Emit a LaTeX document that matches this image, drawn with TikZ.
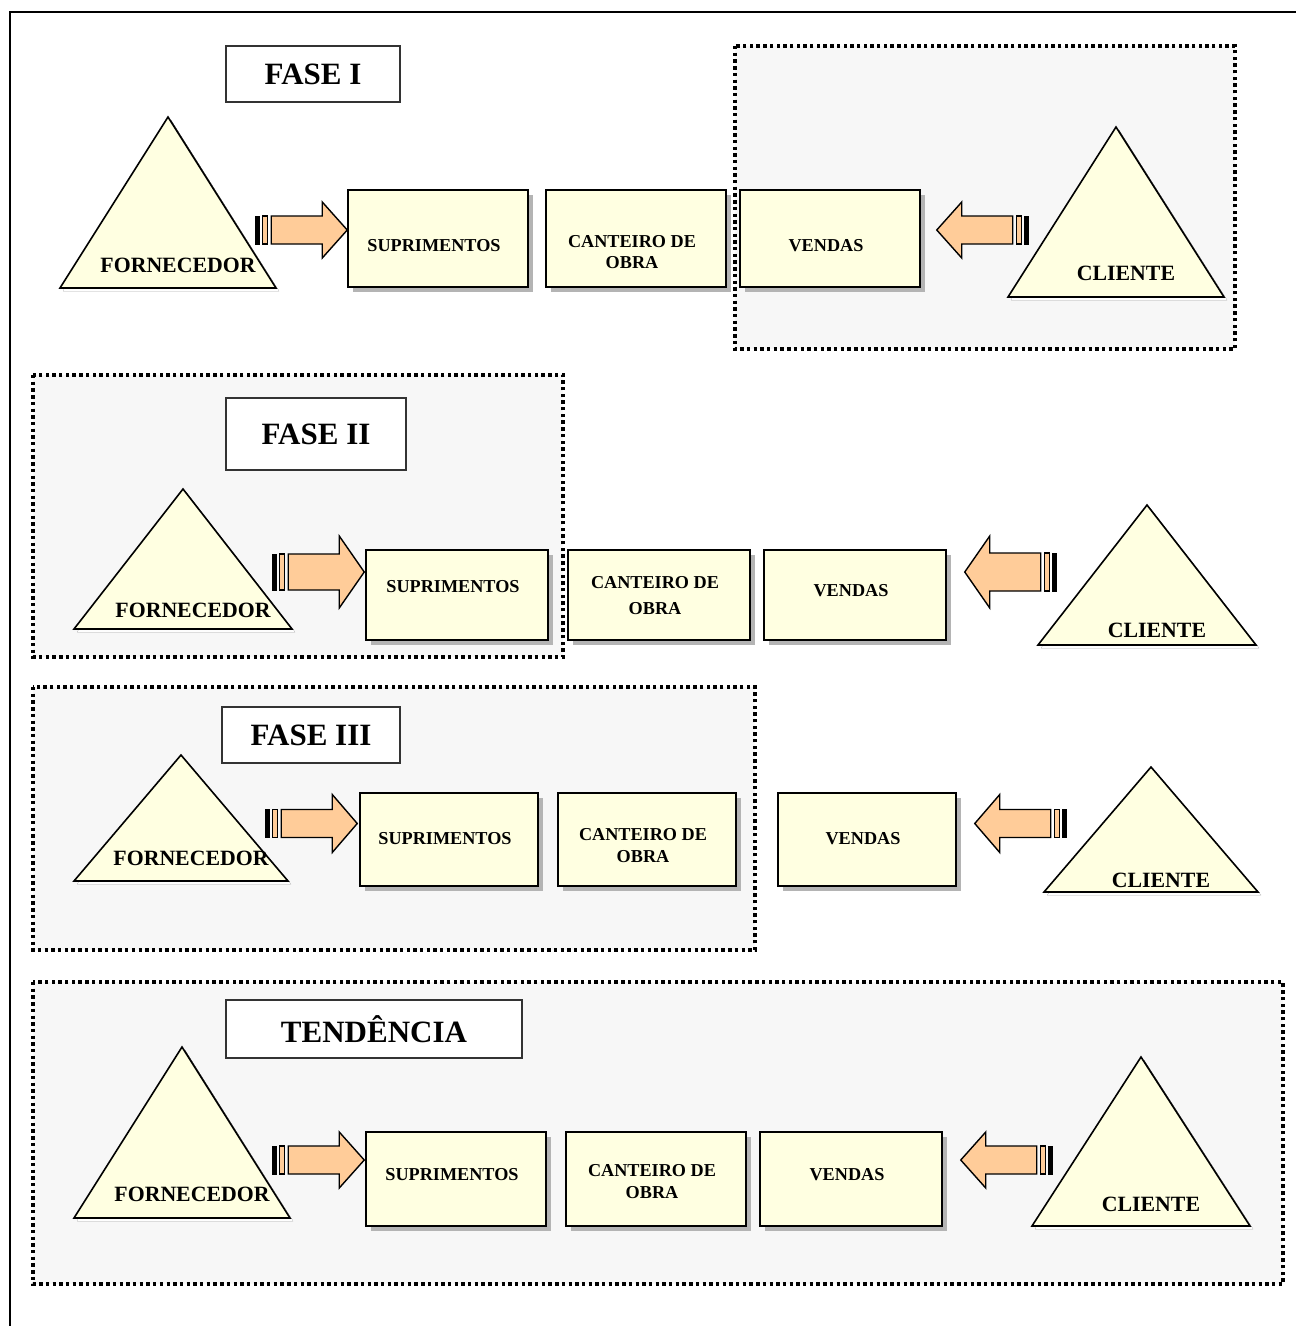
\documentclass[tikz,border=0pt]{standalone}
\usepackage{fontspec}
\setmainfont{Liberation Serif}
\usetikzlibrary{calc,shadows}

\definecolor{cream}{HTML}{FFFFE1}
\definecolor{peach}{HTML}{FFCC99}
\definecolor{zone}{HTML}{F7F7F7}
\definecolor{shade}{HTML}{B4B4B4}
\definecolor{framegray}{HTML}{333333}

\tikzset{
  zonebox/.style={fill=zone, draw=black, line width=3.4pt, dash pattern=on 3.4pt off 3.3pt},
  titlebox/.style={draw=framegray, fill=white, line width=1.4pt, inner sep=0pt,
    font=\fontsize{31}{36}\selectfont\bfseries},
  stagebox/.style={draw=black, fill=cream, line width=1.5pt, inner sep=0pt,
    drop shadow={shadow xshift=5pt, shadow yshift=-5pt, fill=shade, opacity=1}},
  stagetext/.style={inner sep=0pt, align=center, font=\fontsize{18.2}{21}\selectfont\bfseries},
  trishape/.style={draw=black, fill=cream, line width=1.6pt, line join=miter},
  tritext/.style={inner sep=0pt, font=\fontsize{21.8}{24}\selectfont\bfseries},
  arrowshape/.style={draw=black, fill=peach, line width=1.4pt, line join=miter},
}

% stage box: name, x1, y1, x2, y2, label, label y
\newcommand\stage[7]{%
  \node[stagebox, minimum width={#4-#2}, minimum height={#5-#3}] (#1) at ({(#2+#4)/2},{(#3+#5)/2}) {};
  \node[stagetext] (#1-t) at ({(#2+#4)/2-4},#7) {#6};}

% triangle: name, centre x, apex y, base y, half width, label, label y
\newcommand\tri[7]{%
  \fill[shade] (#2+3,#3+3) -- (#2+#5+3,#4+3) -- (#2-#5+3,#4+3) -- cycle;
  \draw[trishape] (#2,#3) coordinate (#1-top) -- (#2+#5,#4) coordinate (#1-r)
    -- (#2-#5,#4) coordinate (#1-l) -- cycle;
  \node[tritext] (#1) at (#2+10,#7) {#6};}

% striped block arrow: tip point, direction (1 right / -1 left), head half height, body half height
\newcommand\flowarrow[4]{%
  \begin{scope}[shift={#1}, xscale=#2]
    \draw[arrowshape] (-76,-#4) -- (-25,-#4) -- (-25,-#3) -- (0,0) -- (-25,#3)
      -- (-25,#4) -- (-76,#4) -- cycle;
    \draw[arrowshape] (-85,-#4) rectangle (-79.5,#4);
    \draw[line width=1pt, fill=black] (-91.5,-#4) rectangle (-88,#4);
  \end{scope}}

\begin{document}
\begin{tikzpicture}[x=1pt, y=-1pt]
\useasboundingbox (0,0) rectangle (1296,1326);
\fill[white] (0,0) rectangle (1296,1326);

% outer frame
\draw[line width=1.5pt] (10,1326) -- (10,12) -- (1296,12);

% ---------- FASE I ----------
\draw[zonebox] (735,46) rectangle (1235,349);
\node[titlebox, minimum width=174, minimum height=56] (t1) at (313,74) {FASE I};
\tri{forn1}{168}{117}{288}{108}{FORNECEDOR}{265}
\tri{cli1}{1116}{127}{297}{108}{CLIENTE}{273}
\stage{s1}{348}{190}{528}{287}{SUPRIMENTOS}{246}
\stage{c1}{546}{190}{726}{287}{CANTEIRO DE\\OBRA}{252}
\stage{v1}{740}{190}{920}{287}{VENDAS}{246}
\flowarrow{($(s1.west)+(0,-8.5)$)}{1}{28}{14}
\flowarrow{($(v1.east)+(16,-8.5)$)}{-1}{28}{14}

% ---------- FASE II ----------
\draw[zonebox] (33,375) rectangle (563,657);
\node[titlebox, minimum width=180, minimum height=72] (t2) at (316,434) {FASE II};
\tri{forn2}{183}{489}{629}{109}{FORNECEDOR}{610}
\tri{cli2}{1147}{505}{645}{109}{CLIENTE}{630}
\stage{s2}{366}{550}{548}{640}{SUPRIMENTOS}{587}
\stage{c2}{568}{550}{750}{640}{CANTEIRO DE\\[5pt]OBRA}{596}
\stage{v2}{764}{550}{946}{640}{VENDAS}{591}
\flowarrow{($(s2.west)+(-1,-23)$)}{1}{36}{18}
\flowarrow{($(v2.east)+(18,-23)$)}{-1}{36}{19}

% ---------- FASE III ----------
\draw[zonebox] (33,687) rectangle (755,950);
\node[titlebox, minimum width=178, minimum height=56] (t3) at (311,735) {FASE III};
\tri{forn3}{181}{755}{881}{107}{FORNECEDOR}{858}
\tri{cli3}{1151}{767}{892}{107}{CLIENTE}{880}
\stage{s3}{360}{793}{538}{886}{SUPRIMENTOS}{839}
\stage{c3}{558}{793}{736}{886}{CANTEIRO DE\\[1pt]OBRA}{846}
\stage{v3}{778}{793}{956}{886}{VENDAS}{839}
\flowarrow{($(s3.west)+(-2,-16)$)}{1}{29}{14}
\flowarrow{($(v3.east)+(18,-16)$)}{-1}{29}{14}

% ---------- TENDENCIA ----------
\draw[zonebox] (33,982) rectangle (1283,1284);
\node[titlebox, minimum width=296, minimum height=58] (t4) at (374,1029) {TENDÊNCIA};
\tri{forn4}{182}{1047}{1218}{108}{FORNECEDOR}{1194}
\tri{cli4}{1141}{1057}{1226}{109}{CLIENTE}{1204}
\stage{s4}{366}{1132}{546}{1226}{SUPRIMENTOS}{1175}
\stage{c4}{566}{1132}{746}{1226}{CANTEIRO DE\\[1pt]OBRA}{1182}
\stage{v4}{760}{1132}{942}{1226}{VENDAS}{1175}
\flowarrow{($(s4.west)+(-1,-19)$)}{1}{28}{14}
\flowarrow{($(v4.east)+(18,-19)$)}{-1}{28}{14}
\end{tikzpicture}
\end{document}
